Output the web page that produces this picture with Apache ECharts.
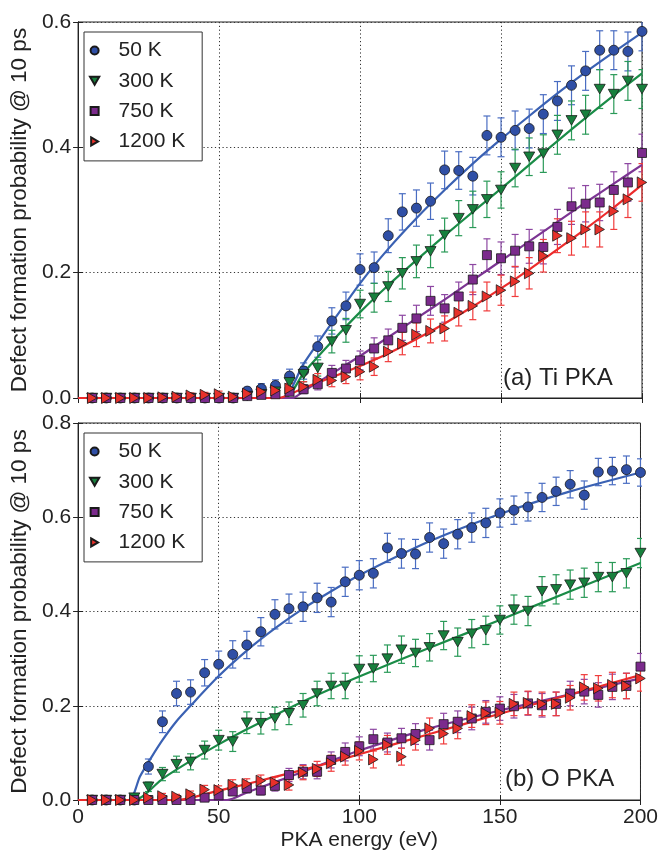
<!DOCTYPE html>
<html><head><meta charset="utf-8">
<script src="https://cdn.jsdelivr.net/npm/echarts@6/dist/echarts.min.js"></script>
<style>html,body{margin:0;padding:0;background:#fff}#c{width:661px;height:853px}</style>
</head><body><div id="c"></div>
<script>
// ---------- data ----------
const energies = [5,10,15,20,25,30,35,40,45,50,55,60,65,70,75,80,85,90,95,100,105,110,115,120,125,130,135,140,145,150,155,160,165,170,175,180,185,190,195,200];
const seriesNames = ['50 K','300 K','750 K','1200 K'];
const xTicks = [0,50,100,150,200];
const yTicksTop = [0,0.2,0.4,0.6];
const yTicksBottom = [0,0.2,0.4,0.6,0.8];
const panelLabels = ['(a) Ti PKA','(b) O PKA'];

// (a) Ti PKA
const ti50   = [0,0,0,0,0,0,0,0,0,0,0, 0.011,0.015,0.020,0.035,0.043,0.082,0.123,0.147,0.205,0.208,0.259,0.297,0.303,0.314,0.364,0.363,0.354,0.419,0.416,0.427,0.430,0.453,0.474,0.499,0.522,0.555,0.555,0.553,0.585];
const ti300  = [0,0,0,0,0,0,0,0,0,0,0, 0.003,0.006,0.010,0.025,0.038,0.048,0.090,0.108,0.150,0.160,0.178,0.199,0.218,0.234,0.260,0.287,0.301,0.317,0.332,0.367,0.385,0.390,0.420,0.443,0.452,0.493,0.485,0.506,0.493];
const ti750  = [0,0,0,0,0,0,0,0,0,0,0, 0.003,0.005,0.006,0.010,0.014,0.022,0.040,0.047,0.060,0.079,0.092,0.112,0.127,0.155,0.143,0.162,0.189,0.228,0.223,0.235,0.242,0.241,0.273,0.306,0.310,0.312,0.332,0.344,0.391];
const ti1200 = [0,0,0,0,0,0.001,0.002,0.004,0.005,0.006,0.002, 0.007,0.010,0.012,0.015,0.018,0.029,0.028,0.034,0.042,0.050,0.074,0.087,0.101,0.107,0.111,0.136,0.147,0.162,0.172,0.186,0.199,0.227,0.259,0.255,0.269,0.269,0.298,0.317,0.344];
const ti50Err   = [0,0,0,0,0,0,0,0,0,0,0, 0.006,0.008,0.009,0.011,0.013,0.017,0.021,0.022,0.025,0.025,0.027,0.029,0.029,0.029,0.030,0.030,0.030,0.031,0.031,0.031,0.031,0.031,0.031,0.031,0.031,0.031,0.031,0.031,0.031];
const ti300Err  = [0,0,0,0,0,0,0,0,0,0,0, 0.003,0.005,0.006,0.010,0.012,0.013,0.018,0.019,0.022,0.023,0.024,0.025,0.026,0.026,0.027,0.028,0.029,0.029,0.029,0.030,0.030,0.030,0.031,0.031,0.031,0.031,0.031,0.031,0.031];
const ti750Err  = [0,0,0,0,0,0,0,0,0,0,0, 0.003,0.004,0.005,0.006,0.007,0.009,0.012,0.013,0.015,0.017,0.018,0.020,0.021,0.023,0.022,0.023,0.024,0.026,0.026,0.026,0.027,0.027,0.028,0.029,0.029,0.029,0.029,0.030,0.030];
const ti1200Err = [0,0,0,0,0,0.002,0.003,0.004,0.004,0.005,0.003, 0.005,0.006,0.007,0.008,0.008,0.010,0.010,0.011,0.013,0.014,0.016,0.018,0.019,0.019,0.020,0.021,0.022,0.023,0.024,0.024,0.025,0.026,0.027,0.027,0.028,0.028,0.029,0.029,0.030];
const tiFit50   = [[0,0],[72,0],[80,0.055],[90,0.120],[100,0.183],[110,0.238],[120,0.287],[130,0.332],[140,0.374],[150,0.413],[160,0.450],[170,0.486],[180,0.520],[190,0.552],[200,0.583]];
const tiFit300  = [[0,0],[73,0],[80,0.040],[90,0.090],[100,0.137],[110,0.180],[120,0.220],[130,0.259],[140,0.297],[150,0.334],[160,0.372],[170,0.410],[180,0.447],[190,0.483],[200,0.518]];
const tiFit750  = [[0,0],[76,0],[80,0.011],[90,0.039],[100,0.067],[110,0.097],[120,0.127],[130,0.157],[140,0.188],[150,0.219],[160,0.250],[170,0.281],[180,0.312],[190,0.342],[200,0.372]];
const tiFit1200 = [[0,0],[71,0],[80,0.016],[90,0.033],[100,0.051],[110,0.071],[120,0.094],[130,0.119],[140,0.146],[150,0.175],[160,0.205],[170,0.237],[180,0.270],[190,0.304],[200,0.340]];

// (b) O PKA
const o50   = [0,0,0,0, 0.071,0.166,0.226,0.229,0.270,0.288,0.309,0.329,0.357,0.394,0.406,0.410,0.429,0.420,0.463,0.477,0.481,0.535,0.523,0.522,0.557,0.544,0.564,0.578,0.588,0.609,0.615,0.622,0.642,0.655,0.670,0.647,0.696,0.698,0.701,0.695];
const o300  = [0,0,0, 0.005,0.028,0.055,0.076,0.081,0.106,0.127,0.124,0.164,0.163,0.173,0.184,0.201,0.226,0.242,0.242,0.278,0.279,0.300,0.319,0.312,0.324,0.349,0.335,0.353,0.360,0.382,0.404,0.401,0.443,0.447,0.457,0.461,0.473,0.473,0.481,0.524];
const o750  = [0,0,0,0,0,0,0,0, 0.005,0.010,0.018,0.025,0.020,0.030,0.053,0.060,0.060,0.085,0.102,0.114,0.129,0.122,0.131,0.140,0.127,0.161,0.166,0.173,0.187,0.194,0.199,0.205,0.201,0.204,0.226,0.230,0.223,0.240,0.242,0.283];
const o1200 = [0,0,0,0, 0.005,0.008,0.007,0.012,0.022,0.021,0.032,0.034,0.041,0.037,0.032,0.058,0.066,0.078,0.092,0.104,0.086,0.117,0.092,0.127,0.152,0.141,0.152,0.178,0.184,0.185,0.204,0.206,0.204,0.204,0.217,0.239,0.237,0.244,0.242,0.258];
const o50Err   = [0,0,0,0, 0.016,0.023,0.026,0.026,0.028,0.028,0.029,0.029,0.030,0.031,0.031,0.031,0.031,0.031,0.031,0.031,0.031,0.031,0.031,0.031,0.031,0.031,0.031,0.031,0.031,0.030,0.030,0.030,0.030,0.030,0.029,0.030,0.029,0.029,0.029,0.029];
const o300Err  = [0,0,0, 0.004,0.010,0.014,0.017,0.017,0.019,0.021,0.021,0.023,0.023,0.024,0.024,0.025,0.026,0.027,0.027,0.028,0.028,0.029,0.029,0.029,0.029,0.030,0.030,0.030,0.030,0.030,0.031,0.031,0.031,0.031,0.031,0.031,0.031,0.031,0.031,0.031];
const o750Err  = [0,0,0,0,0,0,0,0, 0.004,0.006,0.008,0.010,0.009,0.011,0.014,0.015,0.015,0.017,0.019,0.020,0.021,0.020,0.021,0.022,0.021,0.023,0.023,0.024,0.024,0.025,0.025,0.025,0.025,0.025,0.026,0.026,0.026,0.027,0.027,0.028];
const o1200Err = [0,0,0,0, 0.004,0.006,0.005,0.007,0.009,0.009,0.011,0.011,0.012,0.012,0.011,0.015,0.016,0.017,0.018,0.019,0.018,0.020,0.018,0.021,0.022,0.022,0.022,0.024,0.024,0.024,0.025,0.025,0.025,0.025,0.026,0.027,0.027,0.027,0.027,0.027];
const oFit50   = [[0,0],[18,0],[22,0.050],[26,0.090],[30,0.127],[35,0.167],[40,0.200],[50,0.263],[60,0.317],[70,0.364],[80,0.406],[90,0.443],[100,0.477],[125,0.549],[150,0.607],[175,0.655],[200,0.695]];
const oFit300  = [[0,0],[20,0],[30,0.045],[40,0.083],[50,0.118],[60,0.150],[70,0.180],[80,0.209],[90,0.236],[100,0.262],[125,0.323],[150,0.382],[175,0.443],[200,0.503]];
const oFit750  = [[0,0],[53,0],[60,0.016],[70,0.038],[80,0.060],[90,0.083],[100,0.105],[125,0.152],[150,0.190],[175,0.224],[200,0.258]];
const oFit1200 = [[0,0],[35,0],[50,0.020],[60,0.034],[70,0.049],[80,0.064],[90,0.080],[100,0.097],[125,0.140],[150,0.183],[175,0.224],[200,0.265]];

// ---------- styles ----------
const FONT = '"Liberation Sans", Arial, Helvetica, sans-serif';
const markerColors = ['#2f4fa6','#17803d','#7b2a8c','#e8302a'];
const lineColors   = ['#3a61b3','#1a8c47','#7c3593','#ec2b2b'];
const barColors    = ['#4a6dc2','#2a9a58','#8d47a2','#f03c3c'];
const symbols = ['circle','path://M0,0L10,0L5,8.66Z','path://M0,0L10,0L10,10L0,10Z','path://M0,0L8.66,5L0,10Z'];
const symbolSizes = [10,11,9,11];

const panels = [
  {vals:[ti50,ti300,ti750,ti1200], errs:[ti50Err,ti300Err,ti750Err,ti1200Err], fits:[tiFit50,tiFit300,tiFit750,tiFit1200]},
  {vals:[o50,o300,o750,o1200], errs:[o50Err,o300Err,o750Err,o1200Err], fits:[oFit50,oFit300,oFit750,oFit1200]}
];

const series = [];
panels.forEach((p, pi) => {
  for (let i = 0; i < 4; i++) {
    const ebData = [];
    energies.forEach((e, k) => { if (p.errs[i][k] > 0) ebData.push([e, p.vals[i][k], p.errs[i][k]]); });
    series.push({
      type: 'custom', name: 'eb' + pi + i, xAxisIndex: pi, yAxisIndex: pi, clip: true, z: 2,
      silent: true, data: ebData,
      renderItem: (params, api) => {
        const x = api.value(0), y = api.value(1), er = api.value(2);
        const hi = api.coord([x, y + er]), lo = api.coord([x, y - er]);
        const cap = 3.5;
        const st = {stroke: barColors[i], lineWidth: 1.2};
        return {type: 'group', children: [
          {type: 'line', shape: {x1: hi[0], y1: hi[1], x2: lo[0], y2: lo[1]}, style: st},
          {type: 'line', shape: {x1: hi[0] - cap, y1: hi[1], x2: hi[0] + cap, y2: hi[1]}, style: st},
          {type: 'line', shape: {x1: lo[0] - cap, y1: lo[1], x2: lo[0] + cap, y2: lo[1]}, style: st}
        ]};
      }
    });
  }
  for (let i = 0; i < 4; i++) {
    series.push({
      type: 'line', name: 'fit' + pi + i, xAxisIndex: pi, yAxisIndex: pi, z: 3,
      data: p.fits[i], smooth: 0.25, showSymbol: false, silent: true,
      lineStyle: {color: lineColors[i], width: 2.2}, itemStyle: {color: lineColors[i]}
    });
  }
  for (let i = 0; i < 4; i++) {
    series.push({
      type: 'scatter', name: seriesNames[i], xAxisIndex: pi, yAxisIndex: pi, z: 4,
      data: energies.map((e, k) => [e, p.vals[i][k]]),
      symbol: symbols[i], symbolSize: symbolSizes[i], symbolKeepAspect: true,
      itemStyle: {color: markerColors[i], borderColor: '#1a1a1a', borderWidth: 0.8, opacity: 1}
    });
  }
});

const grids = [
  {left: 75, top: 22, width: 567, height: 376},
  {left: 75, top: 423, width: 567, height: 377}
];
const tickColor = '#222';
const split = {show: true, lineStyle: {color: '#333', width: 1, type: [1.2, 2.6]}};

function xAx(gi, showLabels, pos) {
  return {
    type: 'value', gridIndex: gi, min: xTicks[0], max: xTicks[xTicks.length - 1], interval: xTicks[1] - xTicks[0],
    position: pos,
    axisLine: {show: true, lineStyle: {color: tickColor, width: 1}},
    axisTick: {show: true, inside: true, length: 5, lineStyle: {color: tickColor}},
    axisLabel: {show: showLabels, fontFamily: FONT, fontSize: 21, color: '#222', margin: 7},
    splitLine: pos === 'bottom' ? split : {show: false},
    name: (showLabels ? 'PKA energy (eV)' : ''), nameLocation: 'middle', nameGap: 30,
    nameTextStyle: {fontFamily: FONT, fontSize: 21, color: '#222'}
  };
}
function yAx(gi, ticks, showLabels, pos) {
  return {
    type: 'value', gridIndex: gi, min: ticks[0], max: ticks[ticks.length - 1], interval: ticks[1] - ticks[0],
    position: pos,
    axisLine: {show: true, lineStyle: {color: tickColor, width: 1}},
    axisTick: {show: true, inside: true, length: 5, lineStyle: {color: tickColor}},
    axisLabel: {show: showLabels, fontFamily: FONT, fontSize: 21, color: '#222', margin: 7,
      formatter: v => v.toFixed(1)},
    splitLine: pos === 'left' ? split : {show: false},
    name: showLabels ? 'Defect formation probability @ 10 ps' : '', nameLocation: 'middle', nameGap: 45,
    nameRotate: 90,
    nameTextStyle: {fontFamily: FONT, fontSize: 22.5, color: '#222'}
  };
}

function legendAt(top) {
  return {
    orient: 'vertical', left: 84, top: top, padding: [8, 17, 9, 5],
    itemWidth: 38, itemHeight: 8, itemGap: 9.3,
    borderColor: '#333', borderWidth: 1, backgroundColor: '#fff',
    data: seriesNames, selectedMode: false,
    textStyle: {fontFamily: FONT, fontSize: 21, color: '#222', lineHeight: 20}
  };
}

const option = {
  animation: false,
  backgroundColor: '#fff',
  grid: grids.map(g => Object.assign({show: true, borderColor: '#222', borderWidth: 1, backgroundColor: 'transparent'}, g)),
  xAxis: [xAx(0, false, 'bottom'), xAx(1, true, 'bottom'), xAx(0, false, 'top'), xAx(1, false, 'top')],
  yAxis: [yAx(0, yTicksTop, true, 'left'), yAx(1, yTicksBottom, true, 'left'), yAx(0, yTicksTop, false, 'right'), yAx(1, yTicksBottom, false, 'right')],
  legend: [legendAt(32), legendAt(433)],
  graphic: [
    {type: 'text', left: 503, top: 366, z: 10, style: {text: panelLabels[0], font: '24px ' + FONT, fill: '#222'}},
    {type: 'text', left: 505, top: 767, z: 10, style: {text: panelLabels[1], font: '24px ' + FONT, fill: '#222'}}
  ],
  series: series
};

const chart = echarts.init(document.getElementById('c'), null, {renderer: 'canvas'});
chart.setOption(option);
</script>
</body></html>
